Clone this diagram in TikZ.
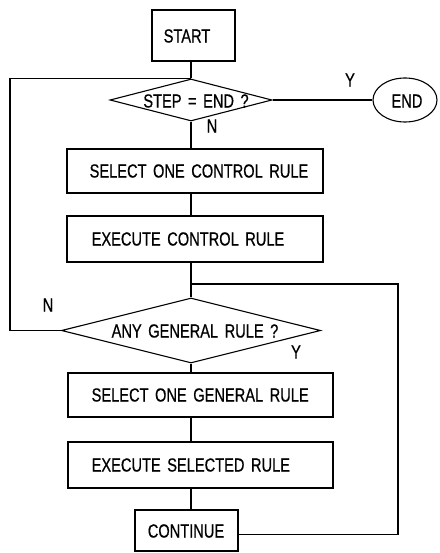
\documentclass[tikz,border=0pt]{standalone}
\usepackage{fontspec}
\setmainfont{Liberation Sans}[FakeStretch=0.77, WordSpace=1.6, FakeBold=0.6]
\usetikzlibrary{shapes.geometric}
\begin{document}
\begin{tikzpicture}[x=1pt,y=-1pt,
  box/.style={draw, rectangle, inner sep=0pt, line width=1.1pt},
  dec/.style={draw, diamond, inner sep=0pt, line width=1.1pt},
  oval/.style={draw, ellipse, inner sep=0pt, line width=1.1pt},
  lbl/.style={font=\fontsize{19}{19}\selectfont, inner sep=0pt},
  conn/.style={line width=1.1pt}]
\useasboundingbox (0,0) rectangle (439,553);
\coordinate (ax) at (191,0);
\coordinate (lx) at (10,0);
\coordinate (rx) at (398,0);
% nodes
\node[box, minimum width=83pt, minimum height=51pt] (start) at (193.5,35.5) {};
\node[lbl] (tstart) at (187,36) {START};
\node[dec, minimum width=162pt, minimum height=42pt] (d1) at (191,100) {};
\node[lbl] (td1) at (196,101) {STEP = END ?};
\node[oval, minimum width=64pt, minimum height=44pt] (end) at (405,100) {};
\node[lbl] (tend) at (407,101) {END};
\node[box, minimum width=256pt, minimum height=44pt] (b1) at (195,171) {};
\node[lbl, anchor=west] (tb1) at ([xshift=23pt]b1.west) {SELECT ONE CONTROL RULE};
\node[box, minimum width=256pt, minimum height=46pt] (b2) at (195,239) {};
\node[lbl, anchor=west] (tb2) at ([xshift=25pt]b2.west) {EXECUTE CONTROL RULE};
\node[dec, minimum width=259pt, minimum height=65pt] (d2) at (191,330.5) {};
\node[lbl] (td2) at (195,331) {ANY GENERAL RULE ?};
\node[box, minimum width=265pt, minimum height=44pt] (b3) at (200.5,395) {};
\node[lbl, anchor=west] (tb3) at ([xshift=24pt]b3.west) {SELECT ONE GENERAL RULE};
\node[box, minimum width=265pt, minimum height=46pt] (b4) at (200.5,465) {};
\node[lbl, anchor=west] (tb4) at ([xshift=24pt]b4.west) {EXECUTE SELECTED RULE};
\node[box, minimum width=103pt, minimum height=41pt] (cont) at (186.5,530.5) {};
\node[lbl] (tcont) at (186,531) {CONTINUE};
% labels
\node[lbl] (y1) at (350,80) {Y};
\node[lbl] (n1) at (212,126) {N};
\node[lbl] (n2) at (48,305) {N};
\node[lbl] (y2) at (296,352) {Y};
% connectors
\draw[conn] (start.south -| ax) -- (d1.north);
\draw[conn] (d1.south) -- (b1.north -| ax);
\draw[conn] (b1.south -| ax) -- (b2.north -| ax);
\draw[conn] (b2.south -| ax) -- (d2.north);
\draw[conn] (d2.south) -- (b3.north -| ax);
\draw[conn] (b3.south -| ax) -- (b4.north -| ax);
\draw[conn] (b4.south -| ax) -- (cont.north -| ax);
\draw[conn] (d1.east) -- (end.west);
\draw[conn] (d2.west) -- (d2.west -| lx) -- (d1.north -| lx) -- (d1.north);
\coordinate (j) at (191,284);
\coordinate (ce) at ([yshift=-4pt]cont.east);
\draw[conn] (j) -- (j -| rx) -- (ce -| rx) -- (ce);
\end{tikzpicture}
\end{document}
